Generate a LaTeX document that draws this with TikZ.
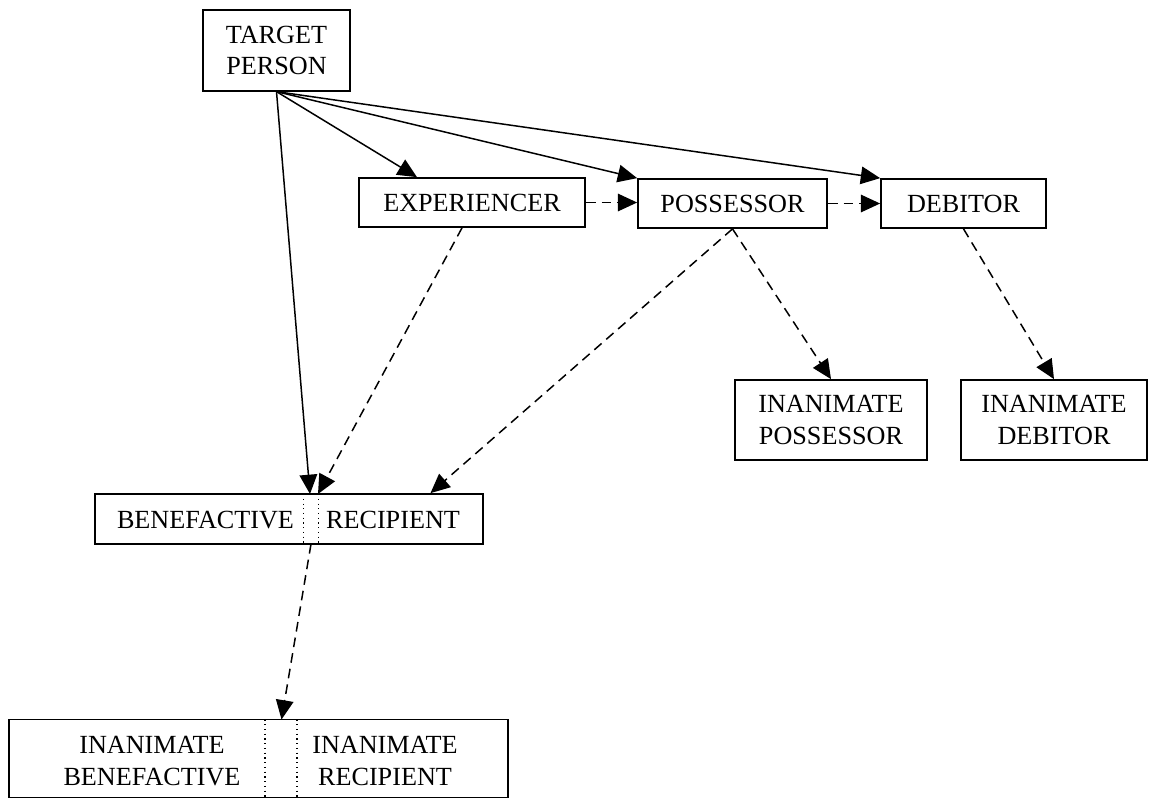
\documentclass[tikz,border=0pt]{standalone}
\usepackage{fontspec}
\setmainfont{Liberation Serif}
\usetikzlibrary{arrows.meta,calc}

\begin{document}
\begin{tikzpicture}[
    x=0.02cm, y=-0.02cm,
    font=\fontsize{14.9}{18}\selectfont,
    box/.style={rectangle, draw, line width=1pt, inner sep=0pt, align=center},
    txt/.style={inner sep=0pt, align=center},
    link/.style={-{Triangle[length=11pt, width=10pt]}, line width=0.85pt},
    dlink/.style={link, dash pattern=on 5.5pt off 3.5pt},
    divider/.style={dotted, line width=0.7pt}
]
    \useasboundingbox (0,0) rectangle (1149,799);

    \node (target) [box, minimum width=2.94cm, minimum height=1.61cm] at (276.5,50.5) {TARGET\\PERSON};
    \node (exp) [box, minimum width=4.52cm, minimum height=0.98cm] at (472,202.5) {EXPERIENCER};
    \node (poss) [box, minimum width=3.78cm, minimum height=0.98cm] at (732.5,203.5) {POSSESSOR};
    \node (deb) [box, minimum width=3.3cm, minimum height=0.98cm] at (963.5,203.5) {DEBITOR};
    \node (inposs) [box, minimum width=3.84cm, minimum height=1.6cm] at (831,420) {INANIMATE\\POSSESSOR};
    \node (indeb) [box, minimum width=3.72cm, minimum height=1.6cm] at (1054,420) {INANIMATE\\DEBITOR};

    \node (benerec) [box, minimum width=7.77cm, minimum height=1cm] at (289,519) {};
    \node (bene) [txt] at (205.5,520) {BENEFACTIVE};
    \node (recip) [txt] at (393,520) {RECIPIENT};
    \draw [divider] (303.4,494) -- (303.4,544);
    \draw [divider] (318.8,494) -- (318.8,544);
    \coordinate (gaptop) at (311,494);
    \coordinate (gapbot) at (311,544);

    \node (inbenerec) [box, minimum width=9.99cm, minimum height=1.56cm] at (258.65,758.5) {};
    \node (inbene) [txt] at (152,761) {INANIMATE\\BENEFACTIVE};
    \node (inrecip) [txt] at (385,761) {INANIMATE\\RECIPIENT};
    \draw [divider] (265,719.5) -- (265,797.5);
    \draw [divider] (297,719.5) -- (297,797.5);
    \coordinate (lowgap) at (281.5,719.5);

    \draw [link] (target.south) -- ([xshift=-1.1cm]exp.north);
    \draw [link] (target.south) -- (poss.north west);
    \draw [link] (target.south) -- (deb.north west);
    \draw [link] (target.south) -- ([xshift=-0.02cm]gaptop);

    \draw [dlink] (exp.east) -- (exp.east -| poss.west);
    \draw [dlink] (poss.east) -- (poss.east -| deb.west);
    \draw [dlink] ([xshift=-0.2cm]exp.south) -- ([xshift=0.14cm]gaptop);
    \draw [dlink] (poss.south) -- ([xshift=2.83cm]benerec.north);
    \draw [dlink] (poss.south) -- (inposs.north);
    \draw [dlink] (deb.south) -- (indeb.north);
    \draw [dlink] (gapbot) -- (lowgap);
\end{tikzpicture}
\end{document}
